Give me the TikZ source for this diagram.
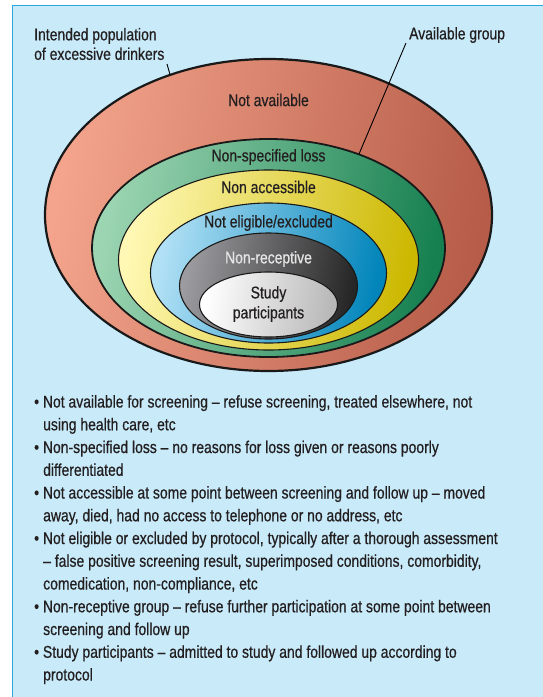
\documentclass[tikz,border=0pt]{standalone}
\usepackage{fontspec}
\setmainfont[FakeStretch=0.82,FakeBold=0.6]{Liberation Sans}
\usetikzlibrary{calc}
\definecolor{bgblue}{HTML}{C8EAF9}
\definecolor{frameblue}{HTML}{2AA8E0}
\definecolor{txt}{HTML}{231F20}
\definecolor{redL}{HTML}{F4A48C}\definecolor{redM}{HTML}{EC7658}\definecolor{redR}{HTML}{B65C48}
\definecolor{grnL}{HTML}{9CD5B2}\definecolor{grnM}{HTML}{5CB485}\definecolor{grnR}{HTML}{168050}
\definecolor{yelL}{HTML}{FFF8B4}\definecolor{yelM}{HTML}{FFEA00}\definecolor{yelR}{HTML}{CCB800}
\definecolor{bluL}{HTML}{B2E1F6}\definecolor{bluM}{HTML}{7ECDEE}\definecolor{bluR}{HTML}{0084BA}
\definecolor{gryL}{HTML}{9C9CA0}\definecolor{gryM}{HTML}{646468}\definecolor{gryR}{HTML}{262626}
\definecolor{whtL}{HTML}{FFFFFF}\definecolor{whtM}{HTML}{EFEFEF}\definecolor{whtR}{HTML}{B8B8B8}
\tikzset{
  lbl/.style={inner sep=0pt, text=txt, font=\fontsize{17}{19}\selectfont, align=center},
  ring/.style={draw=black!90, line width=#1},
  leader/.style={draw=black, line width=0.9pt},
}
\begin{document}
\begin{tikzpicture}[x=1pt,y=-1pt]
\useasboundingbox (0,0) rectangle (542,697);
% frame
\fill[bgblue] (12.5,5.5) rectangle (560,710);
\draw[frameblue, line width=1.6pt] (12.5,710) -- (12.5,5.5) -- (560,5.5);
% ellipses
\shade[left color=redL, middle color=redM, right color=redR, shading angle=80] (268.5,215) ellipse [x radius=223.5, y radius=156];
\draw[ring=2.2pt] (268.5,215) ellipse [x radius=223.5, y radius=156];
\shade[left color=grnL, middle color=grnM, right color=grnR, shading angle=80] (268.5,248) ellipse [x radius=176.5, y radius=109];
\draw[ring=1.8pt] (268.5,248) ellipse [x radius=176.5, y radius=109];
\shade[left color=yelL, middle color=yelM, right color=yelR, shading angle=80] (268.5,260) ellipse [x radius=150, y radius=90];
\draw[ring=1.1pt] (268.5,260) ellipse [x radius=150, y radius=90];
\shade[left color=bluL, middle color=bluM, right color=bluR, shading angle=80] (268.5,273) ellipse [x radius=118, y radius=70];
\draw[ring=1.1pt] (268.5,273) ellipse [x radius=118, y radius=70];
\shade[left color=gryL, middle color=gryM, right color=gryR, shading angle=80] (268.5,286) ellipse [x radius=89, y radius=53];
\draw[ring=1.1pt] (268.5,286) ellipse [x radius=89, y radius=53];
\shade[left color=whtL, middle color=whtM, right color=whtR, shading angle=80] (268.5,304.5) ellipse [x radius=69, y radius=32.5];
\draw[ring=1.1pt] (268.5,304.5) ellipse [x radius=69, y radius=32.5];
% ring labels
\node[lbl] (na) at (268.5,100) {Not available};
\node[lbl] (nsl) at (268.5,157) {Non-specified loss};
\node[lbl] (nac) at (268.5,187) {Non accessible};
\node[lbl] (nel) at (268.5,223) {Not eligible/excluded};
\node[lbl, text=black!10] (nrc) at (268.5,259) {Non-receptive};
\node[lbl, font=\fontsize{17}{20}\selectfont] (sp) at (268.5,304) {Study\\participants};
% outside labels
\node[lbl, align=left, anchor=west, font=\fontsize{17}{19.5}\selectfont] (ipop) at (34,44) {Intended population\\of excessive drinkers};
\node[lbl, anchor=west] (avg) at (409,35) {Available group};
\coordinate (ipopend) at (170,74.5);
\coordinate (ipopstart) at (167,64);
\coordinate (avgstart) at (406,43);
\coordinate (avgend) at (359,154);
\draw[leader] (ipopstart) -- (ipopend);
\draw[leader] (avgstart) -- (avgend);
% bullet list
\node[lbl, align=left, anchor=north west, font=\fontsize{17}{22.75}\selectfont] (list) at (34,395) {%
\textbullet\ Not available for screening – refuse screening, treated elsewhere, not\\
\hspace*{9pt}using health care, etc\\
\textbullet\ Non-specified loss – no reasons for loss given or reasons poorly\\
\hspace*{9pt}differentiated\\
\textbullet\ Not accessible at some point between screening and follow up – moved\\
\hspace*{9pt}away, died, had no access to telephone or no address, etc\\
\textbullet\ Not eligible or excluded by protocol, typically after a thorough assessment\\
\hspace*{9pt}– false positive screening result, superimposed conditions, comorbidity,\\
\hspace*{9pt}comedication, non-compliance, etc\\
\textbullet\ Non-receptive group – refuse further participation at some point between\\
\hspace*{9pt}screening and follow up\\
\textbullet\ Study participants – admitted to study and followed up according to\\
\hspace*{9pt}protocol};
\end{tikzpicture}
\end{document}
